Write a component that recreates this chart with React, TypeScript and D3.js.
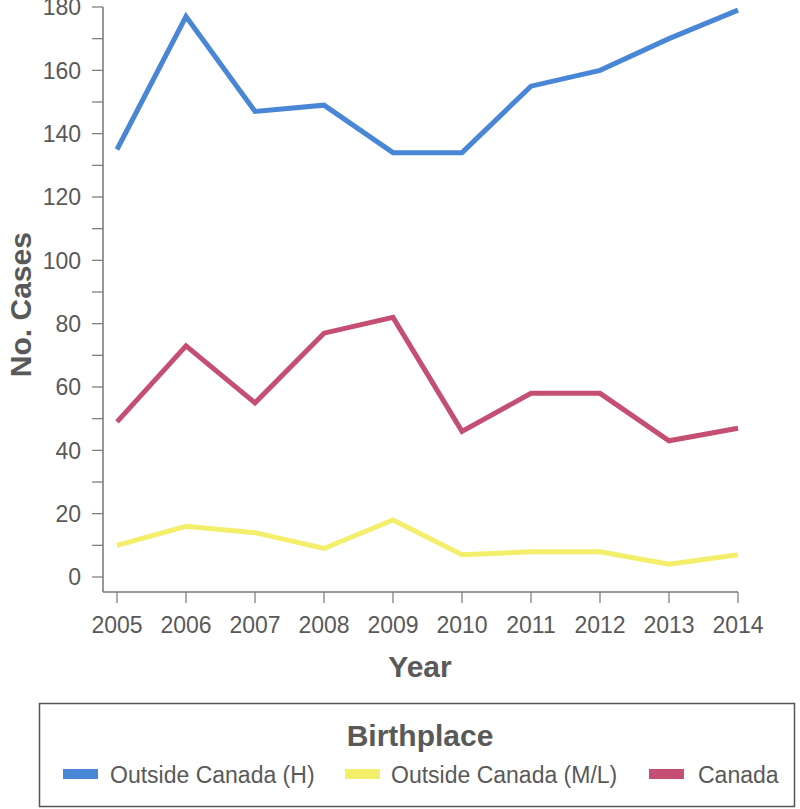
import React from 'react'
import * as d3 from 'd3'

const years = [2005, 2006, 2007, 2008, 2009, 2010, 2011, 2012, 2013, 2014]
const outsideH = [135, 177, 147, 149, 134, 134, 155, 160, 170, 179]
const outsideML = [10, 16, 14, 9, 18, 7, 8, 8, 4, 7]
const canada = [49, 73, 55, 77, 82, 46, 58, 58, 43, 47]
const seriesNames = ['Outside Canada (H)', 'Outside Canada (M/L)', 'Canada']
const seriesColors = ['#4a86d6', '#f4ef6a', '#c44f72']
const yTicks = [0, 20, 40, 60, 80, 100, 120, 140, 160, 180]
const yMinor = d3.range(0, 181, 10)

const font = 'Liberation Sans, Arial, sans-serif'
const textColor = '#595959'
const axisColor = '#767676'

export default function App() {
  const width = 800, height = 809
  const x = d3.scaleLinear().domain([2005, 2014]).range([117, 738])
  const y = d3.scaleLinear().domain([0, 180]).range([577, 7])
  const axisLeft = 103, axisBottom = 592

  const line = d3.line<number>()
    .x((d, i) => x(years[i]))
    .y(d => y(d))

  const allSeries = [outsideH, outsideML, canada]
  // legend layout: swatch x, text x
  const legendItems = [
    { sw: 63, tx: 110 },
    { sw: 345, tx: 391 },
    { sw: 649, tx: 698 },
  ]

  return (
    <svg width={width} height={height} style={{ position: 'absolute', left: 0, top: 0, background: '#fff' }}
      fontFamily={font}>
      {/* y axis */}
      <line x1={axisLeft} x2={axisLeft} y1={y(180)} y2={axisBottom} stroke={axisColor} strokeWidth={1.5} />
      {yMinor.map(t => (
        <line key={'ym' + t} x1={axisLeft - 11} x2={axisLeft} y1={y(t)} y2={y(t)} stroke={axisColor} strokeWidth={1.2} />
      ))}
      {yTicks.map(t => (
        <text key={'yt' + t} x={81} y={y(t)} dy="0.36em" textAnchor="end" fontSize={23} fill={textColor}>{t}</text>
      ))}
      {/* x axis */}
      <line x1={axisLeft} x2={x(2014)} y1={axisBottom} y2={axisBottom} stroke={axisColor} strokeWidth={1.5} />
      {years.map(yr => (
        <g key={'xt' + yr}>
          <line x1={x(yr)} x2={x(yr)} y1={axisBottom} y2={axisBottom + 11} stroke={axisColor} strokeWidth={1.2} />
          <text x={x(yr)} y={633} textAnchor="middle" fontSize={23} fill={textColor}>{yr}</text>
        </g>
      ))}
      {/* axis titles */}
      <text x={420} y={677} textAnchor="middle" fontSize={30} fontWeight="bold" fill={textColor}>Year</text>
      <text transform={`translate(31,${y(86)}) rotate(-90)`} textAnchor="middle" fontSize={30} fontWeight="bold" fill={textColor}>No. Cases</text>

      {/* lines */}
      {allSeries.map((s, i) => (
        <path key={'s' + i} d={line(s) || ''} fill="none" stroke={seriesColors[i]} strokeWidth={5} strokeLinejoin="miter" />
      ))}

      {/* legend */}
      <rect x={39.5} y={703.5} width={755} height={103} fill="none" stroke="#555" strokeWidth={1.5} />
      <text x={420} y={746} textAnchor="middle" fontSize={30} fontWeight="bold" fill={textColor}>Birthplace</text>
      {seriesNames.map((n, i) => (
        <g key={'lg' + i}>
          <rect x={legendItems[i].sw} y={769} width={35} height={10} fill={seriesColors[i]} />
          <text x={legendItems[i].tx} y={783} fontSize={23} fill={textColor}>{n}</text>
        </g>
      ))}
    </svg>
  )
}
